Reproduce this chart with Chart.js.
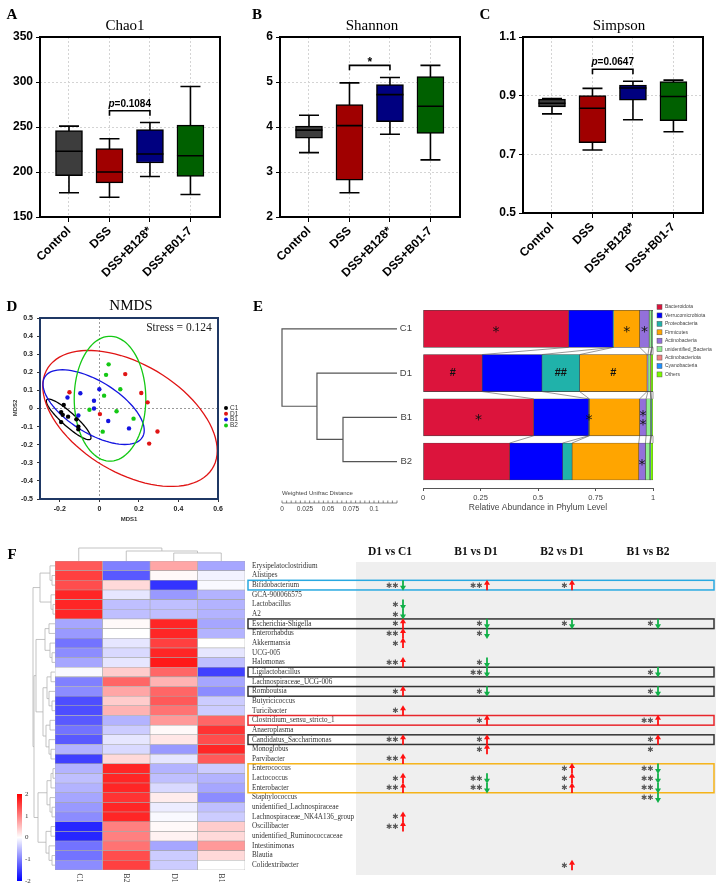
<!DOCTYPE html>
<html>
<head>
<meta charset="utf-8">
<script src="https://cdn.jsdelivr.net/npm/chart.js@4.4.1/dist/chart.umd.min.js"></script>
<style>
  html, body { margin: 0; padding: 0; background: #fff; }
  #page { position: relative; width: 724px; height: 891px; overflow: hidden; }
  canvas { position: absolute; }
</style>
</head>
<body>
<div id="page">
  <canvas id="chao" width="240" height="290" style="left:0;top:0"></canvas>
  <canvas id="shannon" width="240" height="290" style="left:240px;top:0"></canvas>
  <canvas id="simpson" width="244" height="290" style="left:480px;top:0"></canvas>
  <canvas id="nmds" width="250" height="235" style="left:0;top:295px"></canvas>
  <canvas id="phylum" width="474" height="230" style="left:250px;top:290px"></canvas>
  <canvas id="heat" width="724" height="351" style="left:0;top:540px"></canvas>
</div>
<script>
Chart.defaults.animation = false;
Chart.defaults.font.family = "'Liberation Sans', Arial, sans-serif";
Chart.defaults.plugins.legend.display = false;
Chart.defaults.plugins.tooltip.enabled = false;
const SERIF = "'Liberation Serif', 'Times New Roman', serif";
const SANS = "'Liberation Sans', Arial, sans-serif";

// ---------- A-C: alpha diversity boxplots ----------
const groups = ['Control', 'DSS', 'DSS+B128*', 'DSS+B01-7'];
const chaoLow = [177, 172, 195, 175];
const chaoQ1 = [196, 188, 210, 195];
const chaoMed = [223, 200, 220, 218];
const chaoQ3 = [246, 226, 247, 252];
const chaoHigh = [251, 237, 255, 295];
const shannonLow = [3.43, 2.54, 3.84, 3.27];
const shannonQ1 = [3.75, 2.82, 4.12, 3.86];
const shannonMed = [3.93, 4.03, 4.72, 4.46];
const shannonQ3 = [4.02, 4.5, 4.94, 5.12];
const shannonHigh = [4.26, 4.98, 5.1, 5.37];
const simpsonLow = [0.838, 0.715, 0.818, 0.777];
const simpsonQ1 = [0.862, 0.74, 0.885, 0.815];
const simpsonMed = [0.874, 0.857, 0.926, 0.897];
const simpsonQ3 = [0.888, 0.9, 0.936, 0.948];
const simpsonHigh = [0.89, 0.925, 0.949, 0.953];
const boxFill = ['#3d3d3d', '#a00000', '#000080', '#006000'];

// ---------- D: NMDS ----------
const nmdsGroups = ['C1', 'D1', 'B1', 'B2'];
const c1X = [-0.18, -0.193, -0.185, -0.158, -0.193, -0.116, -0.106, -0.106];
const c1Y = [0.02, -0.02, -0.035, -0.045, -0.075, -0.06, -0.1, -0.115];
const d1X = [0.131, 0.212, 0.244, -0.151, 0.003, 0.294, 0.252];
const d1Y = [0.19, 0.086, 0.034, 0.09, -0.031, -0.127, -0.194];
const b1X = [-0.096, -0.161, 0, -0.027, -0.027, 0.045, -0.106, 0.15];
const b1Y = [0.084, 0.061, 0.106, 0.043, 0, -0.069, -0.039, -0.11];
const b2X = [0.047, 0.034, 0.106, 0.024, -0.05, 0.087, 0.173, 0.017];
const b2Y = [0.244, 0.186, 0.106, 0.071, -0.007, -0.015, -0.056, -0.128];
// ellipse: centre, and the two half-axis vectors (data units)
const ellCx = [-0.155, 0.155, -0.029, 0.054];
const ellCy = [-0.06, -0.055, 0.0075, 0.054];
const ellAx = [0.113, 0.441, 0.256, 0.181];
const ellAy = [-0.101, -0.178, -0.128, 0];
const ellBy = [0.049, 0.331, 0.162, 0.345];
const stress = 0.124;
const nmdsColors = ['#000000', '#e01414', '#1414e0', '#14c814'];

// ---------- E: phylum composition ----------
const samples = ['C1', 'D1', 'B1', 'B2'];
const phyla = ['Bacteroidota', 'Verrucomicrobiota', 'Proteobacteria', 'Firmicutes', 'Actinobacteria',
  'unidentified_Bacteria', 'Actinobacteriota', 'Cyanobacteria', 'Others'];
const bacteroidota = [0.633, 0.257, 0.481, 0.377];
const verrucomicrobiota = [0.193, 0.26, 0.239, 0.23];
const proteobacteria = [0.003, 0.164, 0.003, 0.041];
const firmicutes = [0.113, 0.293, 0.219, 0.29];
const actinobacteria = [0.041, 0.004, 0.028, 0.029];
const unidentifiedBacteria = [0.011, 0.01, 0.02, 0.019];
const actinobacteriota = [0.002, 0.002, 0.002, 0.002];
const cyanobacteria = [0.001, 0.001, 0.001, 0.001];
const others = [0.003, 0.009, 0.007, 0.011];
const phylumValues = [bacteroidota, verrucomicrobiota, proteobacteria, firmicutes, actinobacteria,
  unidentifiedBacteria, actinobacteriota, cyanobacteria, others];
const phylumColors = ['#dc143c', '#0000ff', '#20b2aa', '#ffa500', '#9370db', '#90ee90', '#f08080', '#1e90ff', '#7cfc00'];
const markSample = [0, 0, 0, 1, 1, 1, 2, 2, 2, 3];
const markPhylum = [0, 3, 4, 0, 2, 3, 0, 2, 4, 4];
const markText = ['*', '*', '*', '#', '##', '#', '*', '*', '**', '*'];
const abundanceTicks = [0, 0.25, 0.5, 0.75, 1];
// dendrogram [height, left, right], leaves = sample index
const sampleTree = [0.125, 0, [0.087, 1, [0.0587, 2, 3]]];

// ---------- F: genus heatmap ----------
const genera = ['Erysipelatoclostridium', 'Alistipes', 'Bifidobacterium', 'GCA-900066575', 'Lactobacillus', 'A2',
  'Escherichia-Shigella', 'Enterorhabdus', 'Akkermansia', 'UCG-005', 'Halomonas', 'Ligilactobacillus',
  'Lachnospiraceae_UCG-006', 'Romboutsia', 'Butyricicoccus', 'Turicibacter', 'Clostridium_sensu_stricto_1',
  'Anaeroplasma', 'Candidatus_Saccharimonas', 'Monoglobus', 'Parvibacter', 'Enterococcus', 'Lactococcus',
  'Enterobacter', 'Staphylococcus', 'unidentified_Lachnospiraceae', 'Lachnospiraceae_NK4A136_group',
  'Oscillibacter', 'unidentified_Ruminococcaceae', 'Intestinimonas', 'Blautia', 'Colidextribacter'];
const heatCols = ['C1', 'B2', 'D1', 'B1'];
const heatC1 = [1.3, 1.5, 1.4, 1.7, 1.7, 1.7, -0.7, -0.8, -1.1, -0.9, -0.7, -0.05, -1.0, -0.9, -1.4, -1.4,
  -1.3, -1.1, -1.3, -0.6, -1.5, -0.6, -0.5, -0.6, -0.7, -0.8, -0.9, -1.7, -1.7, -1.1, -1.1, -0.9];
const heatB2 = [-1.0, -1.3, 0.3, -0.2, -0.5, -0.5, 0.05, 0, -0.2, -0.3, -0.2, 0.4, 1.2, 0.7, 0.4, 0.6,
  -0.6, -0.4, -0.2, -0.3, 0.3, 1.7, 1.7, 1.7, 1.6, 1.7, 1.7, 1.0, 1.0, 1.1, 1.4, 1.5];
const heatD1 = [0.7, 0.05, -1.6, -0.8, -0.5, -0.5, 1.7, 1.7, 1.5, 1.7, 1.8, 1.2, 0.6, 1.2, 1.3, 1.1,
  0.8, 0.05, 0.2, -0.8, -0.2, -0.6, -0.5, -0.3, 0.15, -0.15, -0.05, 0.05, 0.1, -0.7, -0.4, -0.4];
const heatB1 = [-0.7, -0.1, -0.05, -0.6, -0.6, -0.6, -0.7, -0.6, 0, -0.2, -0.5, -1.5, -0.7, -0.9, -0.4, -0.4,
  1.2, 1.6, 1.4, 1.7, 1.3, -0.4, -0.6, -0.7, -0.9, -0.5, -0.4, 0.4, 0.3, 0.8, 0.3, 0];
const heatValues = [heatC1, heatB2, heatD1, heatB1];
const rowTree = [22,
  [15, [5, 0, [3, 1, 2]], [4, 3, [2, 4, 5]]],
  [21,
    [19, [10, [6, 6, 7], [5, 8, [3, 9, 10]]],
      [12, [8, [4, 11, 12], [6, 13, [3, 14, 15]]], [9, [5, 16, 17], [6, 18, [4, 19, 20]]]]],
    [17, [8, [4, [2, 21, 22], 23], [5, 24, [3, 25, 26]]], [9, [4, 27, 28], [6, 29, [3, 30, 31]]]]]];
const colTree = [13, 0, [10, 1, [8, 2, 3]]];
// significance: stars + u (up) / d (down)
const comparisons = ['D1 vs C1', 'B1 vs D1', 'B2 vs D1', 'B1 vs B2'];
const d1VsC1 = ['', '', '**d', '', '*d', '*d', '*u', '**u', '*u', '', '**u', '', '', '*u', '', '*u',
  '', '', '**u', '', '**u', '', '*u', '**u', '', '', '*u', '**u', '', '', '', ''];
const b1VsD1 = ['', '', '**u', '', '', '', '*d', '*d', '', '', '*d', '**d', '', '*d', '', '',
  '*u', '', '*u', '*u', '', '', '**d', '**d', '', '', '', '', '', '', '', ''];
const b2VsD1 = ['', '', '*u', '', '', '', '*d', '', '', '', '', '', '', '', '', '',
  '', '', '', '', '', '*u', '*u', '*u', '', '', '', '', '', '', '', '*u'];
const b1VsB2 = ['', '', '', '', '', '', '*d', '', '', '', '', '*d', '', '*d', '', '',
  '**u', '', '*u', '*', '', '**d', '**d', '**d', '**d', '', '', '', '', '', '', ''];
const compMarks = [d1VsC1, b1VsD1, b2VsD1, b1VsB2];
const boxRowsFrom = [2, 6, 11, 13, 16, 18, 21];
const boxRowsTo = [2, 6, 11, 13, 16, 18, 23];
const boxRowColors = ['#29a9e1', '#333333', '#333333', '#333333', '#e8262b', '#333333', '#f5b319'];

function txt(ctx, s, x, y, font, color, align, rot) {
  ctx.save();
  ctx.font = font;
  ctx.fillStyle = color || '#000';
  ctx.textAlign = align || 'center';
  ctx.textBaseline = 'middle';
  ctx.translate(x, y);
  if (rot) ctx.rotate(rot);
  ctx.fillText(s, 0, 0);
  ctx.restore();
}

function boxChart(id, offX, o) {
  const parts = {
    id: 'box_' + id,
    beforeDatasetsDraw(chart) {
      const {ctx, scales: {x, y}} = chart;
      ctx.save();
      ctx.strokeStyle = '#000';
      ctx.lineWidth = 1.6;
      ctx.beginPath();
      o.lo.forEach((v, i) => {
        const px = x.getPixelForValue(i);
        const top = y.getPixelForValue(o.hi[i]), bot = y.getPixelForValue(v);
        ctx.moveTo(px, top); ctx.lineTo(px, bot);
        ctx.moveTo(px - 10, top); ctx.lineTo(px + 10, top);
        ctx.moveTo(px - 10, bot); ctx.lineTo(px + 10, bot);
      });
      ctx.stroke();
      ctx.restore();
    },
    afterDatasetsDraw(chart) {
      const {ctx, chartArea: a, scales: {x, y}} = chart;
      ctx.save();
      ctx.strokeStyle = '#000';
      ctx.lineWidth = 1.6;
      ctx.beginPath();
      o.med.forEach((v, i) => {
        const px = x.getPixelForValue(i), py = y.getPixelForValue(v);
        ctx.moveTo(px - 13.5, py); ctx.lineTo(px + 13.5, py);
      });
      const bx1 = x.getPixelForValue(1), bx2 = x.getPixelForValue(2), by = y.getPixelForValue(o.bracket);
      ctx.moveTo(bx1, by + 5); ctx.lineTo(bx1, by); ctx.lineTo(bx2, by); ctx.lineTo(bx2, by + 5);
      ctx.stroke();
      ctx.lineWidth = 2;
      ctx.strokeRect(a.left, a.top, a.width, a.height);
      const cx = (bx1 + bx2) / 2;
      if (o.p) {
        ctx.font = 'italic bold 10px ' + SANS;
        const w1 = ctx.measureText('p').width;
        ctx.font = 'bold 10px ' + SANS;
        const w2 = ctx.measureText('=' + o.p).width;
        const sx = cx - (w1 + w2) / 2;
        ctx.fillStyle = '#000';
        ctx.textBaseline = 'middle';
        ctx.textAlign = 'left';
        ctx.font = 'italic bold 10px ' + SANS;
        ctx.fillText('p', sx, by - 7);
        ctx.font = 'bold 10px ' + SANS;
        ctx.fillText('=' + o.p, sx + w1, by - 7);
      } else {
        txt(ctx, '*', cx, by - 3, 'bold 12px ' + SANS);
      }
      ctx.restore();
      txt(ctx, o.title, o.titleX - offX, 26, '15px ' + SERIF);
      txt(ctx, o.letter, o.letterX - offX, 15, 'bold 15px ' + SERIF);
    }
  };
  return new Chart(document.getElementById(id), {
    type: 'bar',
    data: {
      datasets: [{
        data: o.q1.map((v, i) => ({x: i, y: [v, o.q3[i]]})),
        backgroundColor: boxFill,
        borderColor: '#000',
        borderWidth: 1.5,
        borderSkipped: false,
        barThickness: 27
      }]
    },
    options: {
      responsive: false,
      devicePixelRatio: 1,
      layout: {padding: {left: 0, top: 37, right: o.right, bottom: 0}},
      scales: {
        x: {
          type: 'linear', min: -0.716, max: 3.73, offset: false,
          afterBuildTicks: s => { s.ticks = groups.map((g, i) => ({value: i})); },
          afterFit: s => { s.height = o.xh; },
          grid: {offset: false, color: '#d4d4d4', tickColor: '#000', tickLength: 5},
          border: {display: false, dash: [2, 2]},
          ticks: {autoSkip: false, minRotation: 45, maxRotation: 45, padding: 2, color: '#000',
            font: {size: 12, weight: 'bold'}, callback: v => groups[v]}
        },
        y: {
          min: o.min, max: o.max,
          afterFit: s => { s.width = o.yw; },
          grid: {color: '#d4d4d4', tickColor: '#000', tickLength: 4},
          border: {display: false, dash: [2, 2]},
          ticks: {stepSize: o.step, padding: 3, color: '#000', font: {size: 12, weight: 'bold'}}
        }
      }
    },
    plugins: [parts]
  });
}

boxChart('chao', 0, {lo: chaoLow, q1: chaoQ1, med: chaoMed, q3: chaoQ3, hi: chaoHigh,
  min: 150, max: 350, step: 50, right: 20, yw: 40, xh: 73, bracket: 268, p: '0.1084',
  title: 'Chao1', titleX: 125, letter: 'A', letterX: 12});
boxChart('shannon', 240, {lo: shannonLow, q1: shannonQ1, med: shannonMed, q3: shannonQ3, hi: shannonHigh,
  min: 2, max: 6, step: 1, right: 20, yw: 40, xh: 73, bracket: 5.37, p: null,
  title: 'Shannon', titleX: 372, letter: 'B', letterX: 257});
boxChart('simpson', 480, {lo: simpsonLow, q1: simpsonQ1, med: simpsonMed, q3: simpsonQ3, hi: simpsonHigh,
  min: 0.5, max: 1.1, step: 0.2, right: 21, yw: 43, xh: 77, bracket: 0.99, p: '0.0647',
  title: 'Simpson', titleX: 619, letter: 'C', letterX: 485});

// ---------- D ----------
const nmdsParts = {
  id: 'nmdsParts',
  beforeDatasetsDraw(chart) {
    const {ctx, chartArea: a, scales: {x, y}} = chart;
    ctx.save();
    ctx.beginPath();
    ctx.rect(a.left, a.top, a.width, a.height);
    ctx.clip();
    ctx.lineWidth = 1.3;
    ellCx.forEach((cx, g) => {
      ctx.strokeStyle = nmdsColors[g];
      ctx.beginPath();
      for (let t = 0; t <= 90; t++) {
        const ang = t / 90 * Math.PI * 2;
        const px = x.getPixelForValue(cx + ellAx[g] * Math.cos(ang));
        const py = y.getPixelForValue(ellCy[g] + ellAy[g] * Math.cos(ang) + ellBy[g] * Math.sin(ang));
        if (t) ctx.lineTo(px, py); else ctx.moveTo(px, py);
      }
      ctx.stroke();
    });
    ctx.restore();
  },
  afterDraw(chart) {
    const {ctx, chartArea: a} = chart;
    ctx.save();
    ctx.strokeStyle = '#1f3864';
    ctx.lineWidth = 2;
    ctx.strokeRect(a.left, a.top, a.width, a.height);
    ctx.restore();
    txt(ctx, 'NMDS', 131, 11, '15px ' + SERIF);
    txt(ctx, 'D', 12, 12, 'bold 15px ' + SERIF);
    txt(ctx, 'Stress = ' + stress, 179, 33, '11.5px ' + SERIF, '#222');
    txt(ctx, 'MDS1', 129, 224, 'bold 6px ' + SANS, '#333');
    txt(ctx, 'MDS2', 15, 113, 'bold 6px ' + SANS, '#333', 'center', -Math.PI / 2);
    nmdsGroups.forEach((g, i) => {
      const ly = 113 + i * 5.8;
      ctx.beginPath();
      ctx.fillStyle = nmdsColors[i];
      ctx.arc(226, ly, 2, 0, Math.PI * 2);
      ctx.fill();
      txt(ctx, g, 230, ly, '6.5px ' + SANS, '#333', 'left');
    });
  }
};
const nmdsSets = [[c1X, c1Y], [d1X, d1Y], [b1X, b1Y], [b2X, b2Y]];
const zeroLine = c => (c.tick && c.tick.value === 0 ? '#9a9a9a' : 'rgba(0,0,0,0)');
new Chart(document.getElementById('nmds'), {
  type: 'scatter',
  data: {
    datasets: nmdsSets.map(([xs, ys], g) => ({
      label: nmdsGroups[g],
      data: xs.map((v, i) => ({x: v, y: ys[i]})),
      pointRadius: 2.2,
      pointBorderWidth: 0,
      pointBackgroundColor: nmdsColors[g]
    }))
  },
  options: {
    responsive: false,
    devicePixelRatio: 1,
    layout: {padding: {left: 0, top: 23, right: 32, bottom: 0}},
    scales: {
      x: {
        min: -0.3, max: 0.6,
        afterFit: s => { s.height = 31; },
        grid: {color: zeroLine, tickColor: '#333', tickLength: 3},
        border: {display: false, dash: [2, 2]},
        ticks: {stepSize: 0.2, includeBounds: false, padding: 3, color: '#222', font: {size: 7, weight: 'bold'}}
      },
      y: {
        min: -0.5, max: 0.5,
        afterFit: s => { s.width = 40; },
        grid: {color: zeroLine, tickColor: '#333', tickLength: 3},
        border: {display: false, dash: [2, 2]},
        ticks: {stepSize: 0.1, padding: 4, color: '#222', font: {size: 7, weight: 'bold'}}
      }
    }
  },
  plugins: [nmdsParts]
});

// ---------- E ----------
function drawHTree(ctx, node, yOf, x0, k) {
  if (typeof node === 'number') return {x: x0, y: yOf(node)};
  const a = drawHTree(ctx, node[1], yOf, x0, k), b = drawHTree(ctx, node[2], yOf, x0, k);
  const x = x0 - node[0] * k;
  ctx.moveTo(a.x, a.y); ctx.lineTo(x, a.y); ctx.lineTo(x, b.y); ctx.lineTo(b.x, b.y);
  return {x, y: (a.y + b.y) / 2};
}
function drawVTree(ctx, node, xOf, y0, k) {
  if (typeof node === 'number') return {x: xOf(node), y: y0};
  const a = drawVTree(ctx, node[1], xOf, y0, k), b = drawVTree(ctx, node[2], xOf, y0, k);
  const y = y0 - node[0] * k;
  ctx.moveTo(a.x, a.y); ctx.lineTo(a.x, y); ctx.lineTo(b.x, y); ctx.lineTo(b.x, b.y);
  return {x: (a.x + b.x) / 2, y};
}
const distPx = 920;
const phylumParts = {
  id: 'phylumParts',
  afterDatasetsDraw(chart) {
    const {ctx} = chart;
    ctx.save();
    ctx.strokeStyle = '#555';
    ctx.lineWidth = 0.6;
    ctx.beginPath();
    phyla.forEach((p, k) => {
      const els = chart.getDatasetMeta(k).data;
      for (let i = 0; i < samples.length - 1; i++) {
        ctx.moveTo(els[i].x, els[i].y + els[i].height / 2);
        ctx.lineTo(els[i + 1].x, els[i + 1].y - els[i + 1].height / 2);
      }
    });
    ctx.stroke();
    markText.forEach((m, j) => {
      const el = chart.getDatasetMeta(markPhylum[j]).data[markSample[j]];
      const cx = (el.x + el.base) / 2;
      const font = m[0] === '#' ? 'bold 11px ' + SANS : '14px DejaVu Sans';
      const dy = m[0] === '#' ? 0 : 3.5;
      ctx.font = font;
      if (ctx.measureText(m).width > Math.abs(el.x - el.base) + 2 && m.length > 1) {
        txt(ctx, m[0], cx, el.y - 4 + dy, font, '#111');
        txt(ctx, m[1], cx, el.y + 5 + dy, font, '#111');
      } else {
        txt(ctx, m, cx, el.y + dy, font, '#111');
      }
    });
    ctx.restore();
  },
  afterDraw(chart) {
    const {ctx, scales: {y}} = chart;
    txt(ctx, 'E', 8, 17, 'bold 15px ' + SERIF);
    ctx.save();
    ctx.strokeStyle = '#555';
    ctx.lineWidth = 1.2;
    ctx.beginPath();
    drawHTree(ctx, sampleTree, i => y.getPixelForValue(i), 147, distPx);
    ctx.stroke();
    // distance ruler
    ctx.lineWidth = 0.7;
    ctx.beginPath();
    ctx.moveTo(32, 213); ctx.lineTo(32 + 0.125 * distPx, 213);
    for (let d = 0; d <= 0.1251; d += 0.005) {
      const px = 32 + d * distPx;
      ctx.moveTo(px, 213); ctx.lineTo(px, 210.5);
    }
    ctx.stroke();
    ctx.restore();
    txt(ctx, 'Weighted Unifrac Distance', 32, 203, '6px ' + SANS, '#444', 'left');
    [0, 0.025, 0.05, 0.075, 0.1].forEach(d => txt(ctx, String(d), 32 + d * distPx, 219.5, '6.5px ' + SANS, '#444'));
    txt(ctx, 'Relative Abundance in Phylum Level', 288, 218, '8.5px ' + SANS, '#444');
    phyla.forEach((p, k) => {
      const ly = 17 + k * 8.43;
      ctx.save();
      ctx.fillStyle = phylumColors[k];
      ctx.strokeStyle = '#555';
      ctx.lineWidth = 0.5;
      ctx.fillRect(407, ly - 2.5, 5, 5);
      ctx.strokeRect(407, ly - 2.5, 5, 5);
      ctx.restore();
      txt(ctx, p, 415, ly, '5px ' + SANS, '#444', 'left');
    });
  }
};
new Chart(document.getElementById('phylum'), {
  type: 'bar',
  data: {
    datasets: phyla.map((p, k) => ({
      label: p,
      data: phylumValues[k].map((v, i) => ({x: v, y: i})),
      backgroundColor: phylumColors[k],
      borderColor: '#444',
      borderWidth: 0.6,
      borderSkipped: false,
      barThickness: 37
    }))
  },
  options: {
    responsive: false,
    devicePixelRatio: 1,
    indexAxis: 'y',
    layout: {padding: {left: 0, top: 9.5, right: 71, bottom: 0}},
    scales: {
      x: {
        stacked: true, min: 0, max: 1,
        afterFit: s => { s.height = 32; },
        afterBuildTicks: s => { s.ticks = abundanceTicks.map(v => ({value: v})); },
        grid: {drawOnChartArea: false, color: '#555', tickLength: 3},
        border: {color: '#555'},
        ticks: {padding: 2, color: '#444', font: {size: 7.5}, callback: v => String(v)}
      },
      y: {
        type: 'linear', stacked: true, reverse: true, min: -0.5, max: 3.598, offset: false,
        afterFit: s => { s.width = 173; },
        afterBuildTicks: s => { s.ticks = samples.map((n, i) => ({value: i})); },
        grid: {display: false, drawTicks: false, offset: false},
        border: {display: false},
        ticks: {padding: 11, color: '#444', font: {size: 9.5}, callback: v => samples[v]}
      }
    }
  },
  plugins: [phylumParts]
});

// ---------- F ----------
function zColor(v) {
  const t = Math.max(-1, Math.min(1, v / 2));
  const k = Math.round(255 * (1 - Math.abs(t)));
  return t >= 0 ? `rgb(255,${k},${k})` : `rgb(${k},${k},255)`;
}
const arrowX = [403, 487, 572, 658];
const headerX = [390, 476, 562, 648];
const heatParts = {
  id: 'heatParts',
  beforeDraw(chart) {
    const {ctx} = chart;
    ctx.save();
    ctx.fillStyle = '#efefef';
    ctx.fillRect(356, 22, 360, 313);
    ctx.restore();
  },
  afterDraw(chart) {
    const {ctx, chartArea: a, scales: {x, y}} = chart;
    const rowH = y.getPixelForValue(1) - y.getPixelForValue(0);
    txt(ctx, 'F', 12, 15, 'bold 15px ' + SERIF);
    // dendrograms
    ctx.save();
    ctx.strokeStyle = '#b4b4b4';
    ctx.lineWidth = 0.8;
    ctx.beginPath();
    drawHTree(ctx, rowTree, i => y.getPixelForValue(i), a.left, 1);
    drawVTree(ctx, colTree, c => x.getPixelForValue(c + 0.5), a.top, 1);
    ctx.stroke();
    ctx.restore();
    heatCols.forEach((c, i) => txt(ctx, c, x.getPixelForValue(i + 0.5), 338, '7.5px ' + SERIF, '#333', 'center', Math.PI / 2));
    // colour key
    ctx.save();
    const g = ctx.createLinearGradient(0, 254, 0, 341);
    g.addColorStop(0, zColor(2)); g.addColorStop(0.5, zColor(0)); g.addColorStop(1, zColor(-2));
    ctx.fillStyle = g;
    ctx.fillRect(17, 254, 5, 87);
    ctx.restore();
    [2, 1, 0, -1, -2].forEach((v, i) => txt(ctx, String(v), 25, 254 + i * 21.75, '7px ' + SERIF, '#333', 'left'));
    // highlight frames
    ctx.save();
    ctx.lineWidth = 1.5;
    boxRowsFrom.forEach((r, i) => {
      const top = y.getPixelForValue(r) - rowH / 2;
      const bot = y.getPixelForValue(boxRowsTo[i]) + rowH / 2;
      ctx.strokeStyle = boxRowColors[i];
      ctx.strokeRect(248, top, 466, bot - top);
    });
    ctx.restore();
    // comparison table
    comparisons.forEach((c, j) => {
      txt(ctx, c, headerX[j], 12, 'bold 11.5px ' + SERIF, '#111');
      compMarks[j].forEach((m, r) => {
        if (!m) return;
        const py = y.getPixelForValue(r);
        const ax = arrowX[j];
        const stars = m.replace(/[ud]/g, '').replace(/\*/g, '\u2731');
        txt(ctx, stars, ax - 4.5, py + 0.5, '7.5px DejaVu Sans', '#555', 'right');
        const dir = m.slice(-1);
        if (dir !== 'u' && dir !== 'd') return;
        const s = dir === 'u' ? -1 : 1;
        const col = dir === 'u' ? '#ff1010' : '#10b048';
        ctx.save();
        ctx.strokeStyle = col;
        ctx.fillStyle = col;
        ctx.lineWidth = 1.8;
        ctx.beginPath();
        ctx.moveTo(ax, py - s * 5); ctx.lineTo(ax, py + s * 1);
        ctx.stroke();
        ctx.beginPath();
        ctx.moveTo(ax - 3, py + s * 0.5); ctx.lineTo(ax + 3, py + s * 0.5); ctx.lineTo(ax, py + s * 5.5);
        ctx.closePath();
        ctx.fill();
        ctx.restore();
      });
    });
  }
};
new Chart(document.getElementById('heat'), {
  type: 'bar',
  data: {
    labels: genera,
    datasets: heatCols.map((c, ci) => ({
      label: c,
      data: genera.map((gname, i) => ({x: [ci, ci + 1], y: gname, z: heatValues[ci][i]})),
      backgroundColor: ctx => zColor(ctx.raw ? ctx.raw.z : 0),
      borderColor: '#a8a8a8',
      borderWidth: 0.6,
      borderSkipped: false,
      grouped: false,
      barPercentage: 1,
      categoryPercentage: 1
    }))
  },
  options: {
    responsive: false,
    devicePixelRatio: 1,
    indexAxis: 'y',
    layout: {padding: {left: 55, top: 21, right: 0, bottom: 21}},
    scales: {
      x: {type: 'linear', min: 0, max: 4, display: false},
      y: {
        type: 'category', position: 'right',
        afterFit: s => { s.width = 479; },
        grid: {display: false, drawTicks: false},
        border: {display: false},
        ticks: {autoSkip: false, padding: 7, color: '#333', font: {family: SERIF, size: 7.2}}
      }
    }
  },
  plugins: [heatParts]
});
</script>
</body>
</html>
